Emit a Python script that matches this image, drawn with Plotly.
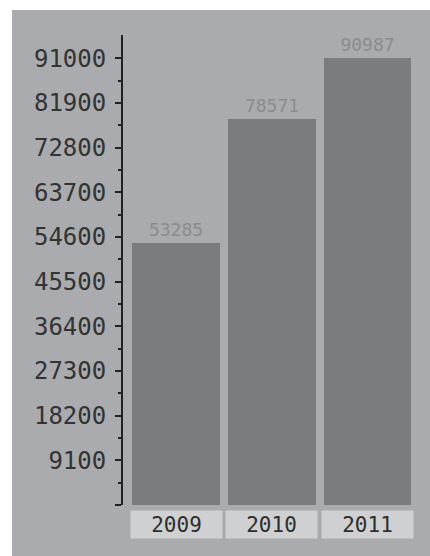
import plotly.graph_objects as go

years = ["2009", "2010", "2011"]
values = [53285, 78571, 90987]
tick_values = [0, 9100, 18200, 27300, 36400, 45500, 54600, 63700, 72800, 81900, 91000]
tick_labels = ["", "9100", "18200", "27300", "36400", "45500", "54600", "63700", "72800", "81900", "91000"]

PANEL = "#aaabae"
BAR = "#7b7c80"
BOX = "#cfd0d2"
MONO = "DejaVu Sans Mono"

W, H = 430, 556
L, R, T, B = 123, 15, 35, 51
pw, ph = W - L - R, H - T - B

fig = go.Figure()
fig.add_trace(go.Bar(
    x=list(range(len(years))), y=values,
    width=0.91,
    marker=dict(color=BAR, line=dict(width=0)),
    text=[str(v) for v in values], textposition="outside",
    textfont=dict(family=MONO, size=18, color="#8a8b8f"),
    cliponaxis=False, hoverinfo="skip",
))

# grey panel behind everything
fig.add_shape(type="rect", xref="paper", yref="paper", layer="below",
              x0=(12 - L) / pw, x1=(W - L) / pw + 0.02,
              y0=-B / ph - 0.02, y1=1 + (T - 10) / ph,
              fillcolor=PANEL, line=dict(width=0))

# category label boxes
box_center = 524.5
for i, yr in enumerate(years):
    fig.add_annotation(x=i, xref="x", y=-((box_center - T) - ph) / ph,
                       yref="paper", text=yr, showarrow=False,
                       width=91, height=27, bgcolor=BOX, borderpad=0,
                       font=dict(family=MONO, size=21, color="#2e2e2e"),
                       xanchor="center", yanchor="middle")

fig.update_layout(
    width=W, height=H,
    margin=dict(l=L, r=R, t=T, b=B, pad=0),
    paper_bgcolor="white", plot_bgcolor="rgba(0,0,0,0)",
    showlegend=False, bargap=0,
    xaxis=dict(range=[-0.5527, 2.492], showticklabels=False, showgrid=False,
               zeroline=False, showline=False, ticks="", fixedrange=True),
    yaxis=dict(range=[0, 95740], tickvals=tick_values, ticktext=tick_labels,
               showgrid=False, zeroline=False, showline=True, linecolor="#222222", linewidth=2,
               ticks="outside", ticklen=6, tickwidth=1.5, tickcolor="#222222",
               ticklabelstandoff=4,
               minor=dict(tickvals=[4550 + 9100 * k for k in range(10)], ticks="outside",
                          ticklen=3, tickwidth=1.5, tickcolor="#222222"),
               tickfont=dict(family=MONO, size=24, color="#333333"),
               fixedrange=True),
)

fig.write_html("out.html", config={"displayModeBar": False},
               post_script="document.body.style.margin='0';document.body.style.overflow='hidden';")
